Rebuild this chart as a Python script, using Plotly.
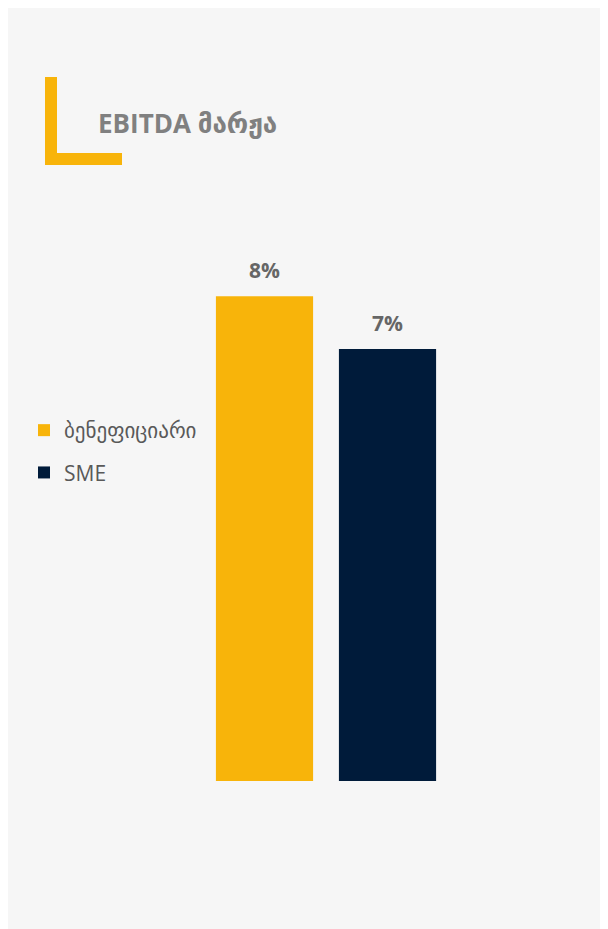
import plotly.graph_objects as go

# ---- data ----
categories = ["ბენეფიციარი", "SME"]
values = [0.080, 0.0713]
labels = ["8%", "7%"]
colors = ["#F8B40A", "#001B3A"]
title_text = "EBITDA მარჟა"

# page body has an 8px margin; reference pixel coords are converted by subtracting it
OFF = 8
W, H = 608, 921
L_M, R_M, T_M, B_M = 195, 167, 167, 148
PW = W - L_M - R_M
PH = H - T_M - B_M


def px_x(p):
    return (p - OFF - L_M) / PW


def px_y(p):
    return (H - B_M - (p - OFF)) / PH


FONT = "Open Sans, DejaVu Sans, sans-serif"

fig = go.Figure()
for i, (cat, val, col) in enumerate(zip(categories, values, colors)):
    fig.add_trace(go.Bar(
        x=[i], y=[val], name=cat, marker=dict(color=col, line=dict(width=0)),
        legendgroup=f"g{i}", hoverinfo="skip",
    ))

annotations = []
for i, (val, lab) in enumerate(zip(values, labels)):
    annotations.append(dict(
        x=i, y=val, xref="x", yref="y", text=f"<b>{lab}</b>", showarrow=False,
        yanchor="bottom", yshift=10, font=dict(family=FONT, size=21, color="#666666"),
    ))
annotations.append(dict(
    xref="paper", yref="paper", x=px_x(96), y=px_y(123),
    xanchor="left", yanchor="middle", text=f"<b>{title_text}</b>", showarrow=False,
    font=dict(family=FONT, size=26, color="#808080"),
))

shapes = [
    # L decoration
    dict(type="rect", xref="paper", yref="paper", x0=px_x(45), x1=px_x(57), y0=px_y(165), y1=px_y(77),
         fillcolor="#F8B40A", line=dict(width=0)),
    dict(type="rect", xref="paper", yref="paper", x0=px_x(45), x1=px_x(122), y0=px_y(165), y1=px_y(153),
         fillcolor="#F8B40A", line=dict(width=0)),
]

fig.update_layout(
    width=W, height=H,
    margin=dict(l=L_M, r=R_M, t=T_M, b=B_M),
    paper_bgcolor="#F6F6F6", plot_bgcolor="#F6F6F6",
    barmode="overlay", bargap=0.21,
    xaxis=dict(range=[-0.5, 1.5], visible=False, fixedrange=True),
    yaxis=dict(range=[0, 0.1], visible=False, fixedrange=True),
    showlegend=True,
    legend=dict(
        xref="container", yref="container", x=(24 - OFF) / W, y=1 - (410 - OFF) / H,
        xanchor="left", yanchor="top", bgcolor="rgba(0,0,0,0)",
        font=dict(family=FONT, size=21, color="#595959"),
        tracegroupgap=12, itemwidth=30,
    ),
    annotations=annotations, shapes=shapes,
)

fig.write_html("out.html")
